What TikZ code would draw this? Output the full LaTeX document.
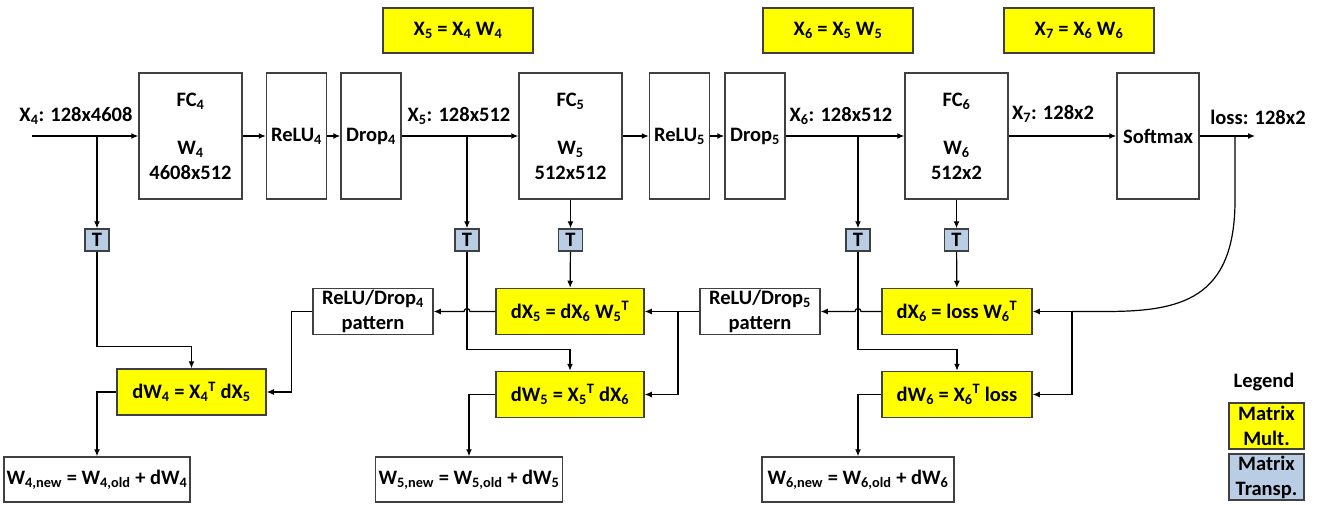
\documentclass[tikz,border=0pt]{standalone}
\usepackage{fontspec}
\setmainfont{Carlito}
\usetikzlibrary{arrows.meta,positioning,calc}
\newcommand{\lsub}[1]{\textsubscript{#1}}
\newcommand{\lsup}[1]{\textsuperscript{#1}}
\definecolor{multyellow}{HTML}{FFFF00}
\definecolor{transpblue}{HTML}{B9CDE5}
\definecolor{boxgray}{HTML}{404040}

\begin{document}
\begin{tikzpicture}[
  x=1pt, y=-1pt,
  >={Latex[length=7pt,width=6pt]}, line width=1.2pt,
  every node/.style={font=\fontsize{20.5}{25}\selectfont\bfseries, align=center, inner sep=1pt},
  layer/.style={draw=boxgray, line width=1.5pt, minimum height=126pt},
  mult/.style={draw=boxgray, line width=1.5pt, fill=multyellow, minimum width=149pt, minimum height=46pt},
  transp/.style={draw=boxgray, line width=1.5pt, fill=transpblue, minimum width=24pt, minimum height=22pt, inner sep=0pt},
  plain/.style={draw=boxgray, line width=1.5pt, minimum height=46pt}
]
  \useasboundingbox (0,0) rectangle (1319,505);

  % Forward layers
  \coordinate (in) at (32,136);
  \node[layer, minimum width=103pt] (fc4) at (190.5,136) {FC\lsub4\\[23pt]W\lsub4\\4608x512};
  \node[layer, minimum width=60pt] (relu4) [right=23pt of fc4] {ReLU\lsub4};
  \node[layer, minimum width=60pt] (drop4) [right=13pt of relu4] {Drop\lsub4};
  \node[layer, minimum width=103pt] (fc5) at (570.5,136) {FC\lsub5\\[23pt]W\lsub5\\512x512};
  \node[layer, minimum width=60pt] (relu5) [right=26pt of fc5] {ReLU\lsub5};
  \node[layer, minimum width=60pt] (drop5) [right=14pt of relu5] {Drop\lsub5};
  \node[layer, minimum width=103pt] (fc6) at (956.5,136) {FC\lsub6\\[23pt]W\lsub6\\512x2};
  \node[layer, minimum width=82pt] (softmax) at (1158,136) {Softmax};
  \coordinate (out) at (1255,136);

  % Line labels
  \node (x4lbl) at (76,116) {X\lsub4: 128x4608};
  \node (x5lbl) at (459,116) {X\lsub5: 128x512};
  \node (x6lbl) at (841,116) {X\lsub6: 128x512};
  \node (x7lbl) at (1053,114) {X\lsub7: 128x2};
  \node (losslbl) at (1258,117) {loss: 128x2};

  % Forward equations
  \node[mult, minimum width=150pt, minimum height=45pt] (eq5) at (458,30.5) {X\lsub5 = X\lsub4 W\lsub4};
  \node[mult, minimum width=150pt, minimum height=45pt] (eq6) at (838,30.5) {X\lsub6 = X\lsub5 W\lsub5};
  \node[mult, minimum width=150pt, minimum height=45pt] (eq7) at (1079,30.5) {X\lsub7 = X\lsub6 W\lsub6};

  % Transpose boxes
  \coordinate (b4) at (97,136);
  \coordinate (b5) at (467,136);
  \coordinate (b6) at (858,136);
  \coordinate (bl) at (1235,136);
  \node[transp] (t4) at (97,240) {T};
  \node[transp] (t5) at (467,240) {T};
  \node[transp] (tw5) at (fc5 |- t4) {T};
  \node[transp] (t6) at (858,240) {T};
  \node[transp] (tw6) at (fc6 |- t4) {T};

  % Backward boxes
  \node[plain, minimum width=120pt] (rd4) at (373,311.5) {ReLU/Drop\lsub4\\pattern};
  \node[mult, minimum width=148pt] (dx5) at (570,311.5) {dX\lsub5 = dX\lsub6 W\lsub5\lsup{T}};
  \node[plain, minimum width=120pt] (rd5) at (760,311.5) {ReLU/Drop\lsub5\\pattern};
  \node[mult, minimum width=150pt] (dx6) at (957,311.5) {dX\lsub6 = loss W\lsub6\lsup{T}};
  \node[mult] (dw4) at (191.5,392) {dW\lsub4 = X\lsub4\lsup{T} dX\lsub5};
  \node[mult, minimum width=148pt] (dw5) at (570,394.5) {dW\lsub5 = X\lsub5\lsup{T} dX\lsub6};
  \node[mult, minimum width=150pt] (dw6) at (957,394.5) {dW\lsub6 = X\lsub6\lsup{T} loss};

  % Weight updates
  \node[plain, minimum width=186pt, minimum height=45pt] (w4new) at (97,479.5) {W\lsub{4,new} = W\lsub{4,old} + dW\lsub4};
  \node[plain, minimum width=187pt, minimum height=45pt] (w5new) at (469,479.5) {W\lsub{5,new} = W\lsub{5,old} + dW\lsub5};
  \node[plain, minimum width=192pt, minimum height=45pt] (w6new) at (858,479.5) {W\lsub{6,new} = W\lsub{6,old} + dW\lsub6};

  % Legend
  \node (legend) at (1264,382) {Legend};
  \node[mult, minimum width=75pt, minimum height=46pt] (lgmult) at (1266.5,426) {Matrix\\Mult.};
  \node[transp, minimum width=75pt, minimum height=46pt, inner sep=1pt] (lgtransp) at (1266.5,477) {Matrix\\Transp.};

  % Forward connections
  \draw[->] (in) -- (fc4);
  \draw[->] (fc4) -- (relu4);
  \draw[->] (relu4) -- (drop4);
  \draw[->] (drop4) -- (fc5);
  \draw[->] (fc5) -- (relu5);
  \draw[->] (relu5) -- (drop5);
  \draw[->] (drop5) -- (fc6);
  \draw[->] (fc6) -- (softmax);
  \draw[->] (softmax) -- (out);

  % Transposes and weight gradients
  \draw[->] (b4) -- (t4);
  \draw[->] (t4) |- ($(dw4.north)+(0,-22)$) -- (dw4);
  \draw[->] (b5) -- (t5);
  \draw[->] (t5) |- ($(dw5.north)+(0,-21)$) -- (dw5);
  \draw[->] (fc5) -- (tw5);
  \draw[->] (tw5) -- (dx5);
  \draw[->] (b6) -- (t6);
  \draw[->] (t6) |- ($(dw6.north)+(0,-21)$) -- (dw6);
  \draw[->] (fc6) -- (tw6);
  \draw[->] (tw6) -- (dx6);

  % Backward connections
  \coordinate (jl) at (1072,311.5);
  \coordinate (j5) at (678,311.5);
  \draw (bl) -- (1235,200) .. controls (1235,300) and (1180,311.5) .. (1105,311.5) -- (jl);
  \draw[->] (jl) -- (dx6);
  \draw[->] (jl) |- (dw6.east);
  \draw[->] (dx6) -- ($(t6 |- dx6)+(3,0)$) arc[start angle=0, end angle=180, radius=3pt] -- (rd5);
  \draw (rd5) -- (j5);
  \draw[->] (j5) -- (dx5);
  \draw[->] (j5) |- (dw5.east);
  \draw[->] (dx5) -- ($(t5 |- dx5)+(3,0)$) arc[start angle=0, end angle=180, radius=3pt] -- (rd4);
  \draw[->] (rd4.west) -- ++(-21,0) |- (dw4.east);
  \draw[->] (dw4.west) -| (w4new.north);
  \draw[->] (dw5.west) -| (w5new.north);
  \draw[->] (dw6.west) -| (w6new.north);
\end{tikzpicture}
\end{document}
